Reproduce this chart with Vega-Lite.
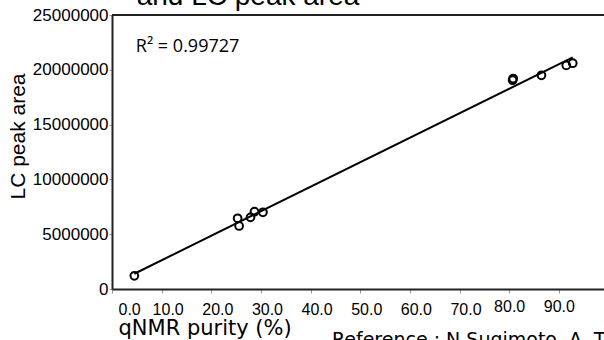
{
  "$schema": "https://vega.github.io/schema/vega-lite/v6.json",
  "width": 492,
  "height": 274,
  "autosize": {"type": "none"},
  "padding": {"left": 112, "top": 15, "right": 0, "bottom": 51},
  "background": "white",
  "config": {"view": {"stroke": null}, "axis": {"grid": false}},
  "title": {
    "text": ["Correlation between qNMR purity", "and LC peak area"],
    "font": "Liberation Sans",
    "fontSize": 28,
    "fontWeight": "normal",
    "color": "black",
    "anchor": "middle",
    "frame": "group",
    "dx": -110,
    "dy": 13,
    "offset": 8
  },
  "data": {
    "values": [
      {"purity": 4.5, "area": 1200000},
      {"purity": 25.3, "area": 6450000},
      {"purity": 25.6, "area": 5750000},
      {"purity": 27.9, "area": 6540000},
      {"purity": 28.7, "area": 7050000},
      {"purity": 30.4, "area": 7000000},
      {"purity": 80.7, "area": 19050000},
      {"purity": 80.8, "area": 19200000},
      {"purity": 86.5, "area": 19500000},
      {"purity": 91.5, "area": 20400000},
      {"purity": 92.8, "area": 20600000}
    ]
  },
  "layer": [
    {
      "mark": {"type": "rule", "color": "#222", "strokeWidth": 2},
      "encoding": {
        "y": {"datum": 25000000, "type": "quantitative", "scale": {"domain": [0, 25000000], "nice": false}}
      }
    },
    {
      "transform": [{"regression": "area", "on": "purity"}],
      "mark": {"type": "line", "color": "black", "strokeWidth": 2},
      "encoding": {
        "x": {"field": "purity", "type": "quantitative", "scale": {"domain": [0, 99.1], "nice": false}},
        "y": {"field": "area", "type": "quantitative", "scale": {"domain": [0, 25000000], "nice": false}}
      }
    },
    {
      "mark": {"type": "point", "shape": "circle", "filled": false, "color": "black", "strokeWidth": 2, "size": 60, "opacity": 1},
      "encoding": {
        "x": {
          "field": "purity", "type": "quantitative",
          "scale": {"domain": [0, 99.1], "nice": false},
          "axis": {
            "values": [0, 10, 20, 30, 40, 50, 60, 70, 80, 90],
            "format": ".1f",
            "labelFont": "Liberation Sans",
            "labelFontSize": 16,
            "labelColor": "black",
            "labelOffset": {"condition": {"test": "datum.value >= 80", "value": 0}, "value": 6},
            "labelPadding": {"condition": {"test": "datum.value >= 80", "value": 5}, "value": 8},
            "tickSize": 4,
            "tickColor": "#999",
            "tickWidth": 1,
            "domainColor": "#222",
            "domainWidth": 2,
            "title": "qNMR purity (%)",
            "titleFont": "DejaVu Sans",
            "titleFontSize": 21,
            "titleFontWeight": "normal",
            "titleColor": "black",
            "titleAnchor": "start",
            "titleAlign": "left",
            "titleBaseline": "alphabetic",
            "titleX": 6,
            "titleY": 45
          }
        },
        "y": {
          "field": "area", "type": "quantitative",
          "scale": {"domain": [0, 25000000], "nice": false},
          "axis": {
            "values": [0, 5000000, 10000000, 15000000, 20000000, 25000000],
            "format": "d",
            "labelFont": "Liberation Sans",
            "labelFontSize": 17,
            "labelColor": "black",
            "labelPadding": 1,
            "tickSize": 3,
            "tickColor": "#999",
            "tickWidth": 1,
            "domainColor": "#222",
            "domainWidth": 2,
            "title": "LC peak area",
            "titleFont": "Liberation Sans",
            "titleFontSize": 21,
            "titleFontWeight": "normal",
            "titleColor": "black",
            "titleAngle": -90,
            "titleAlign": "center",
            "titleBaseline": "middle",
            "titleX": -94,
            "titleY": 121
          }
        }
      }
    },
    {
      "data": {"values": [{"t": "R² = 0.99727"}]},
      "mark": {"type": "text", "align": "left", "baseline": "alphabetic", "font": "Open Sans", "fontSize": 18, "color": "black"},
      "encoding": {
        "x": {"datum": 4.8, "type": "quantitative", "scale": {"domain": [0, 99.1], "nice": false}},
        "y": {"datum": 21620000, "type": "quantitative", "scale": {"domain": [0, 25000000], "nice": false}},
        "text": {"field": "t"}
      }
    },
    {
      "data": {"values": [{"t": "Reference : N Sugimoto, A. Tada et al."}]},
      "mark": {"type": "text", "align": "left", "baseline": "alphabetic", "font": "DejaVu Sans", "fontSize": 19, "color": "black"},
      "encoding": {
        "x": {"datum": 44.3, "type": "quantitative", "scale": {"domain": [0, 99.1], "nice": false}},
        "y": {"datum": -5200000, "type": "quantitative", "scale": {"domain": [0, 25000000], "nice": false}},
        "text": {"field": "t"}
      }
    }
  ]
}
